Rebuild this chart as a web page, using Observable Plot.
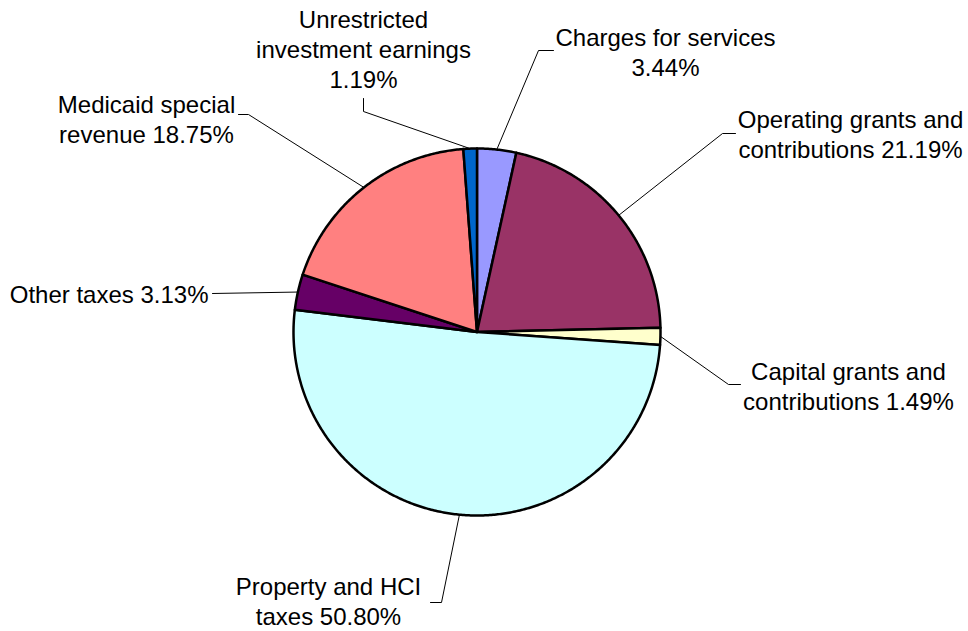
<!DOCTYPE html>
<html><head><meta charset="utf-8">
<script src="https://cdn.jsdelivr.net/npm/d3@7"></script>
<script src="https://cdn.jsdelivr.net/npm/@observablehq/plot@0.6"></script>
<style>html,body{margin:0;padding:0;background:#fff}#chart svg{display:block}</style>
</head><body><div id="chart"></div>
<script>
// ---- data ----
const categories = ["Charges for services", "Operating grants and contributions", "Capital grants and contributions", "Property and HCI taxes", "Other taxes", "Medicaid special revenue", "Unrestricted investment earnings"];
const shares = [3.44, 21.19, 1.49, 50.80, 3.13, 18.75, 1.19];
const labelTexts = ["Charges for services\n3.44%", "Operating grants and\ncontributions 21.19%", "Capital grants and\ncontributions 1.49%", "Property and HCI\ntaxes 50.80%", "Other taxes 3.13%", "Medicaid special\nrevenue 18.75%", "Unrestricted\ninvestment earnings\n1.19%"];
const colors = ["#9999FF", "#993366", "#FFFFCC", "#CCFFFF", "#660066", "#FF8080", "#0066CC"];

// ---- layout ----
const W = 968, H = 631;
const cx = 476.5, cy = 331.5, R = 183.5;
const labelPos = [[665, 51, "middle"], [850, 133, "middle"], [848, 385, "middle"], [328, 600, "middle"], [208, 293, "end"], [146, 118, "middle"], [363, 48, "middle"]];
const leaderPts = [[[538, 50], [553, 50]], [[722, 133], [735, 133]], [[728, 384], [740, 384]], [[441, 602], [430, 602]], [[212, 293]], [[248, 114], [238, 114]], [[363, 111], [363, 98]]];

const pt = (a, r) => [cx + r * Math.sin(a), cy - r * Math.cos(a)];
const arcs = d3.pie().sort(null).value(d => d)(shares);

const features = arcs.map((a, i) => {
  const ring = [[cx, cy]];
  const n = Math.max(2, Math.ceil((a.endAngle - a.startAngle) / (Math.PI / 360)));
  for (let k = 0; k <= n; k++) ring.push(pt(a.startAngle + (a.endAngle - a.startAngle) * k / n, R));
  ring.push([cx, cy]);
  return {type: "Feature", properties: {name: categories[i], color: colors[i]}, geometry: {type: "Polygon", coordinates: [ring]}};
});

const leaders = [];
arcs.forEach((a, i) => {
  const mid = (a.startAngle + a.endAngle) / 2;
  const p0 = pt(mid, R);
  leaders.push({x: p0[0], y: p0[1], k: i});
  leaderPts[i].forEach(p => leaders.push({x: p[0], y: p[1], k: i}));
});

const labels = labelTexts.map((t, i) => ({text: t, x: labelPos[i][0], y: labelPos[i][1], anchor: labelPos[i][2]}));

const chart = Plot.plot({
  width: W, height: H,
  margin: 0,
  projection: {type: "identity"},
  style: {background: "#fff", fontFamily: "'Liberation Sans', Arial, sans-serif"},
  marks: [
    Plot.line(leaders, {x: "x", y: "y", z: "k", stroke: "#000", strokeWidth: 1, curve: "linear"}),
    Plot.geo(features, {fill: d => d.properties.color, stroke: "#000", strokeWidth: 2.5, strokeLinejoin: "round"}),
    Plot.text(labels.filter(d => d.anchor === "middle"), {x: "x", y: "y", text: "text", textAnchor: "middle", lineAnchor: "middle", fontSize: 24, lineHeight: 1.25, fill: "#000"}),
    Plot.text(labels.filter(d => d.anchor === "end"), {x: "x", y: "y", text: "text", textAnchor: "end", lineAnchor: "middle", fontSize: 24, lineHeight: 1.25, fill: "#000"})
  ]
});
document.getElementById("chart").appendChild(chart);
</script>
</body></html>
